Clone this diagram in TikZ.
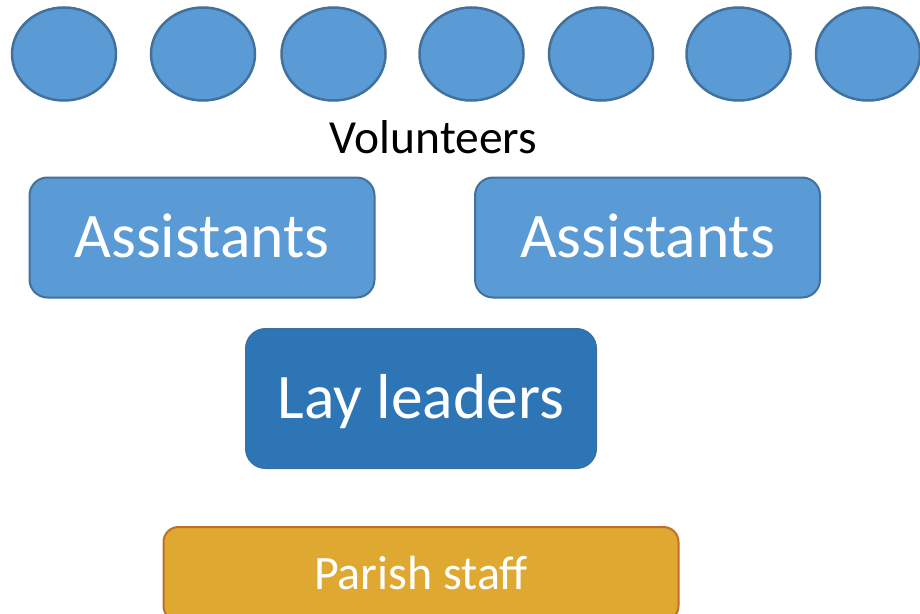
\documentclass[tikz,border=0pt]{standalone}
\usepackage{fontspec}
\setmainfont{Carlito}
\usetikzlibrary{shapes.geometric}
\definecolor{bluefill}{HTML}{5B9BD5}
\definecolor{blueline}{HTML}{41719C}
\definecolor{darkfill}{HTML}{2E75B6}
\definecolor{darkline}{HTML}{3C6E9E}
\definecolor{orangefill}{HTML}{DFA830}
\definecolor{orangeline}{HTML}{BF6F2A}
\tikzset{
  volunteer/.style={ellipse, fill=bluefill, draw=blueline, line width=2.5pt,
    minimum width=104pt, minimum height=93pt, inner sep=0pt},
  boxbase/.style={rectangle, inner sep=0pt, text=white,
    text height=40pt, text depth=0pt, font=\fontsize{63.5}{76}\selectfont},
  assistbox/.style={boxbase, fill=bluefill, draw=blueline, line width=2pt,
    rounded corners=18pt, minimum width=345pt, minimum height=120pt},
  leaderbox/.style={boxbase, fill=darkfill, draw=darkline, line width=1pt,
    rounded corners=20pt, minimum width=351pt, minimum height=140pt},
  staffbox/.style={boxbase, fill=orangefill, draw=orangeline, line width=2pt,
    rounded corners=15pt, minimum width=515pt, minimum height=94pt,
    text height=30pt, font=\fontsize{48}{58}\selectfont, text=white},
  caption/.style={font=\fontsize{47.5}{57}\selectfont, text=black, inner sep=0pt}
}
\begin{document}
\begin{tikzpicture}[x=1pt,y=-1pt]
\useasboundingbox (0,0) rectangle (920,613);
\clip (0,0) rectangle (920,613);
\fill[white] (0,0) rectangle (920,613);
% volunteers
\node[volunteer] (v1) at (64,54) {};
\node[volunteer] (v2) at (203,54) {};
\node[volunteer] (v3) at (333.5,54) {};
\node[volunteer] (v4) at (471.5,54) {};
\node[volunteer] (v5) at (601,54) {};
\node[volunteer] (v6) at (738.5,54) {};
\node[volunteer] (v7) at (868,54) {};
\node[caption, anchor=base] (vol) at (433.5,153) {Volunteers};
% assistants
\node[assistbox] (a1) at (202,237.5) {Assistants};
\node[assistbox] (a2) at (647.5,237.5) {Assistants};
% lay leaders
\node[leaderbox] (ll) at (421,398.5) {Lay leaders};
% parish staff
\node[staffbox] (ps) at (421,574) {Parish staff};
\end{tikzpicture}
\end{document}
